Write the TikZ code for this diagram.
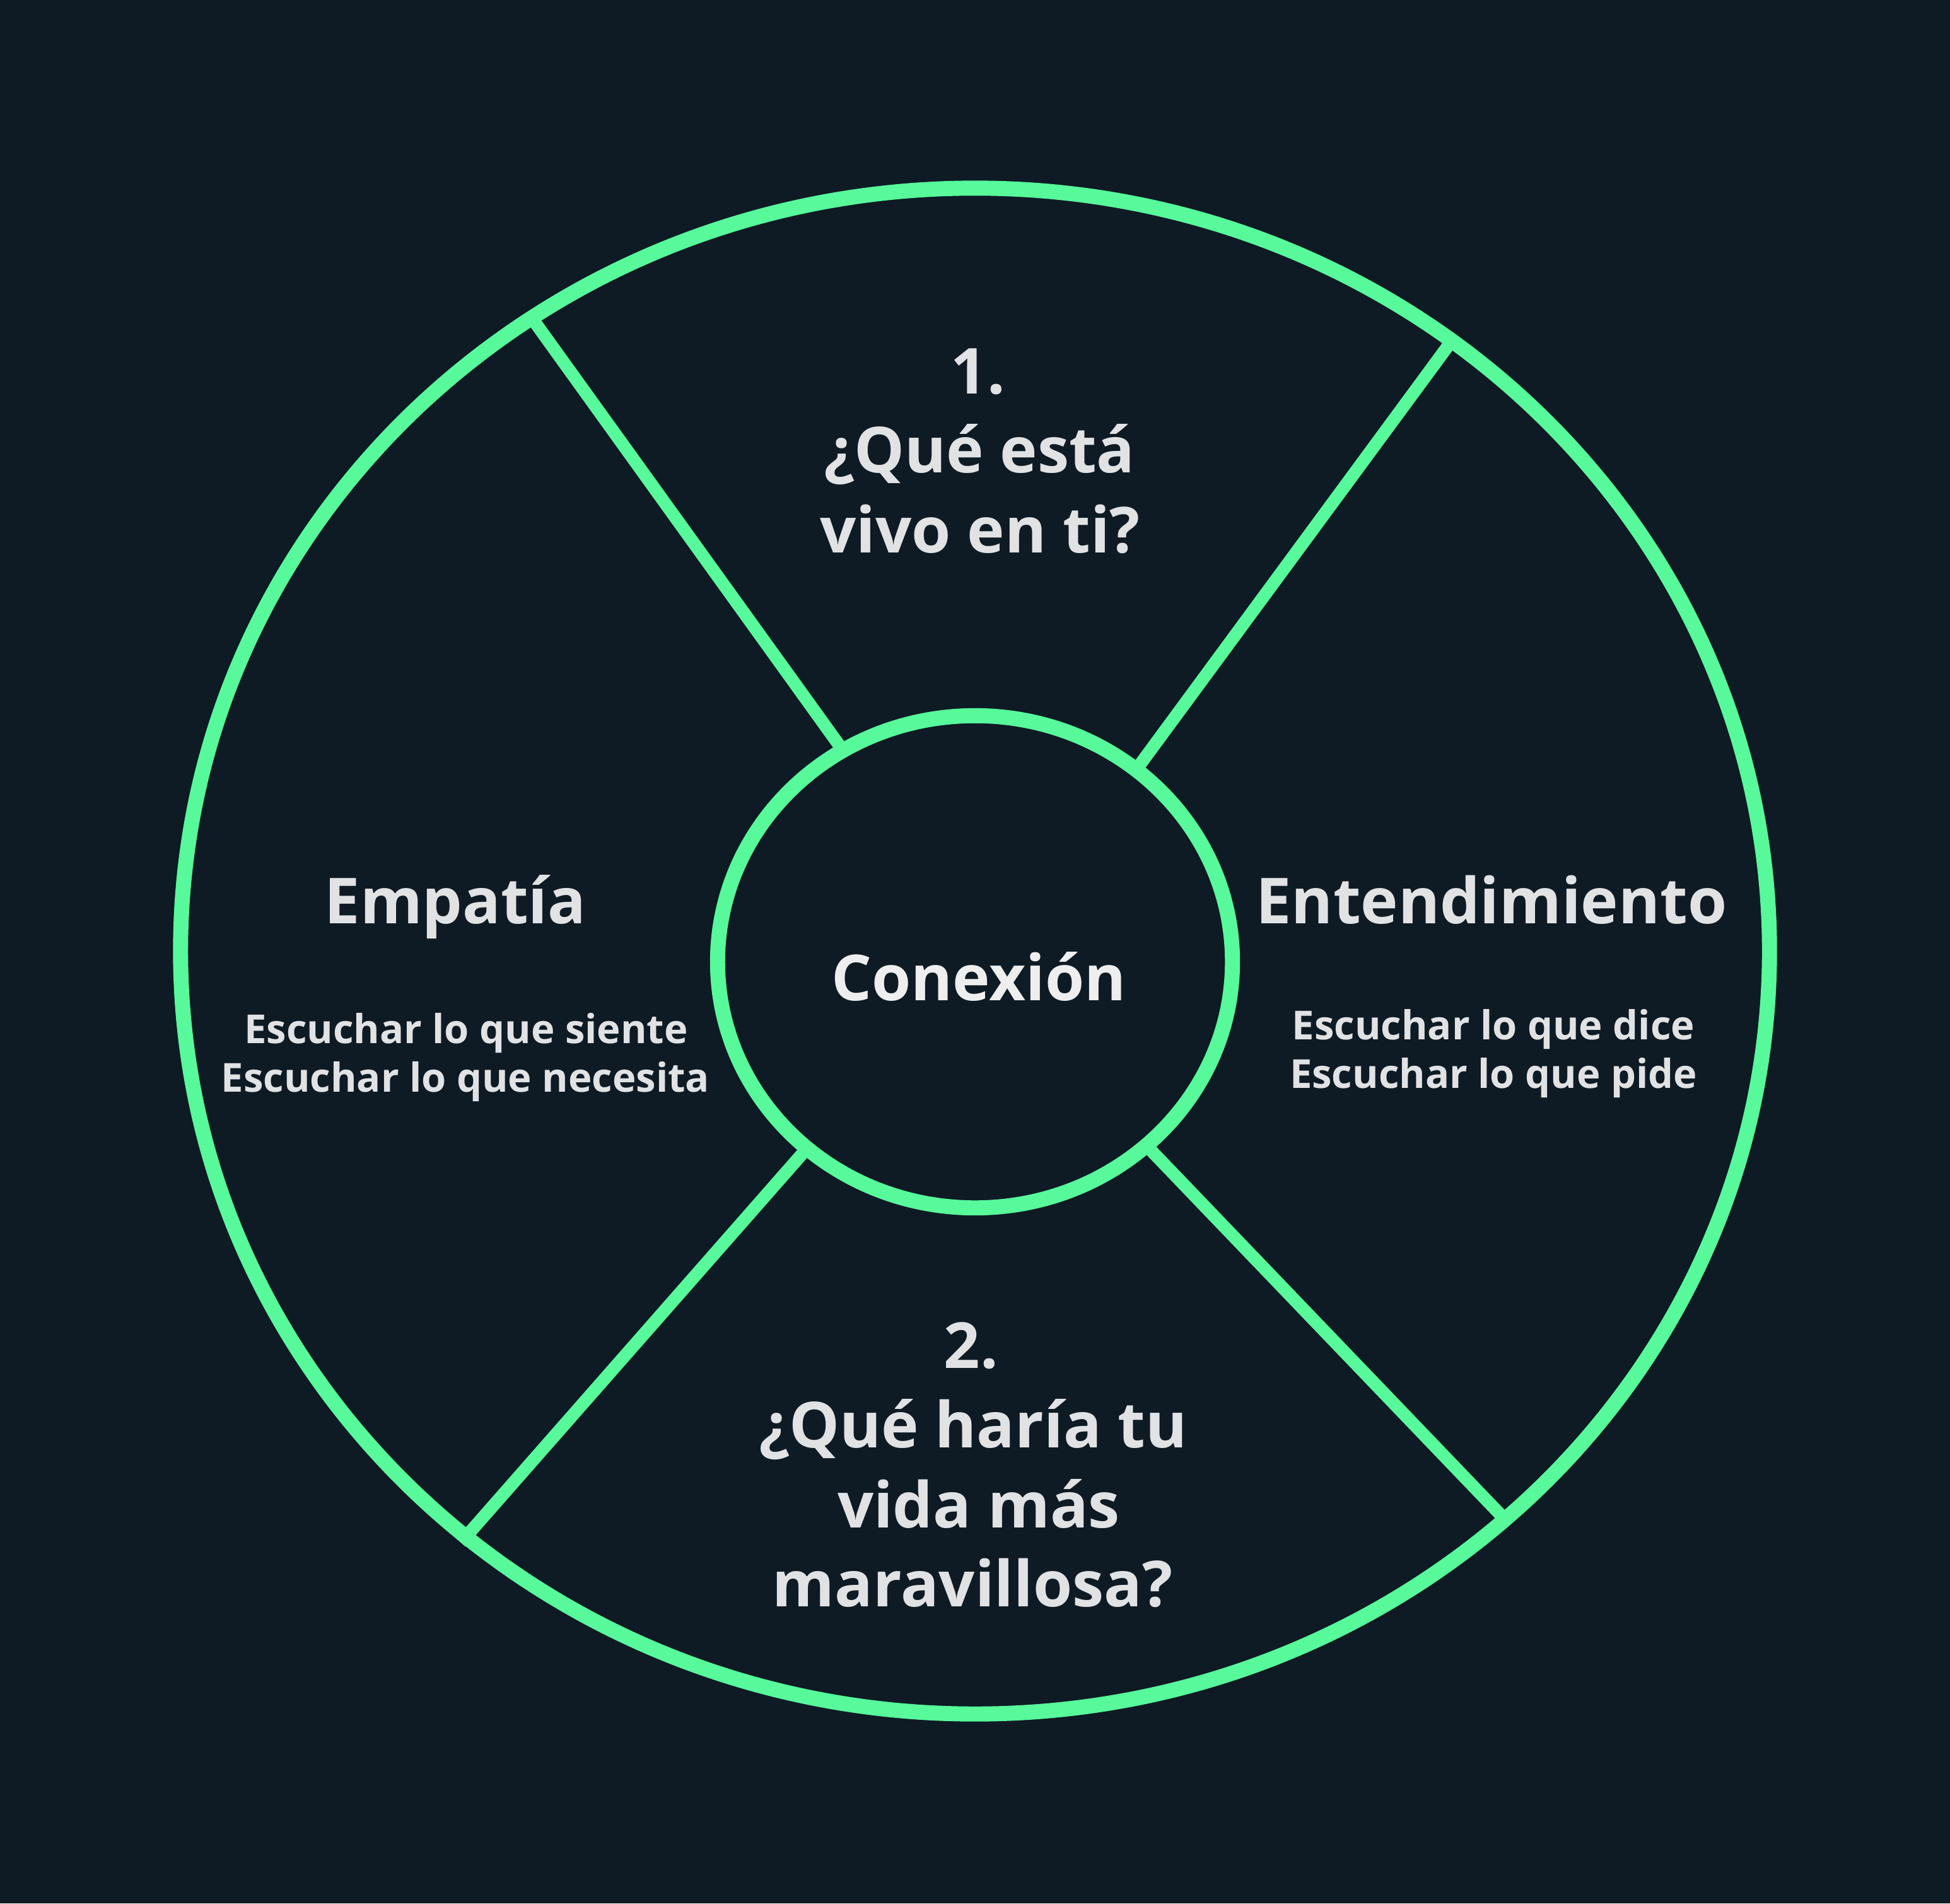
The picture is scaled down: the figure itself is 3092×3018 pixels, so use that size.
\documentclass[tikz,border=0pt]{standalone}
\usepackage{fontspec}
\setmainfont{Open Sans}
\usetikzlibrary{shapes.geometric}
\definecolor{bg}{HTML}{0E1B24}
\definecolor{ring}{HTML}{57F99B}
\definecolor{txt}{HTML}{E1E2E4}
\definecolor{txtc}{HTML}{EEEEEE}
\begin{document}
\begin{tikzpicture}[x=0.01cm,y=-0.01cm,
  ringstyle/.style={draw=ring, line width=6.8pt, ellipse, inner sep=0pt, outer sep=0pt},
  spoke/.style={draw=ring, line width=5.7pt},
  big/.style={text=txt, inner sep=0pt, anchor=base, font=\fontsize{28.6pt}{34pt}\selectfont\bfseries},
  small/.style={text=txt, inner sep=0pt, anchor=base, font=\fontsize{18pt}{22pt}\selectfont\bfseries}]
\fill[bg] (0,0) rectangle (3092,3018);
\useasboundingbox (0,0) rectangle (3092,3018);
% rings
\node[ringstyle, minimum width=25.18cm, minimum height=24.18cm] (outer) at (1546,1508) {};
\node[ringstyle, minimum width=8.16cm, minimum height=7.80cm] (inner) at (1546,1525) {};
% spokes
\draw[spoke] (outer.125) -- (inner.122);
\draw[spoke] (outer.52.25) -- (inner.50);
\draw[spoke, shorten <=-3.5pt] (outer.229.9) -- (inner.228.2);
\draw[spoke] (outer.-47.7) -- (inner.-47);
% top question
\node[big] (q1n) at (1551,624) {1.};
\node[big] (q1a) at (1553,749) {¿Qué está};
\node[big] (q1b) at (1554,876) {vivo en ti?};
% left
\node[big] (emp) at (722,1464) {Empatía};
\node[small] (emp1) at (739,1654) {Escuchar lo que siente};
\node[small] (emp2) at (738,1731) {Escuchar lo que necesita};
% right
\node[big] (ent) at (2365,1464) {Entendimiento};
\node[small] (ent1) at (2368,1648) {Escuchar lo que dice};
\node[small] (ent2) at (2368,1725) {Escuchar lo que pide};
% centre
\node[big, text=txtc] (con) at (1552,1586) {Conexión};
% bottom question
\node[big] (q2n) at (1540,2169) {2.};
\node[big] (q2a) at (1543,2295) {¿Qué haría tu};
\node[big] (q2b) at (1552,2422) {vida más};
\node[big] (q2c) at (1542,2547) {maravillosa?};
\end{tikzpicture}
\end{document}
